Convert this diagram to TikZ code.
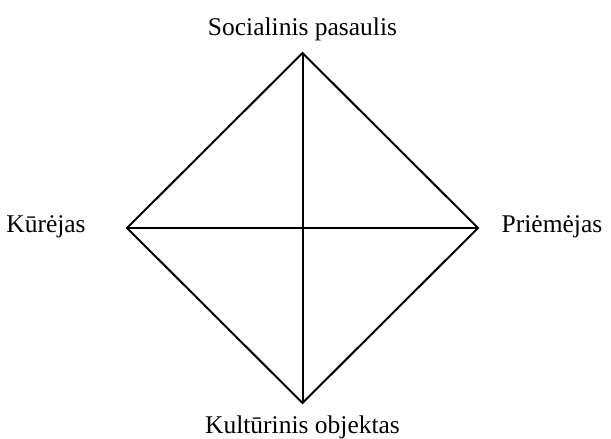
\documentclass[tikz,border=0pt]{standalone}
\usepackage{fontspec}
\setmainfont{Liberation Serif}
\begin{document}
\begin{tikzpicture}[x=1pt,y=-1pt,
  lbl/.style={anchor=base,inner sep=0pt,font=\fontsize{25.5}{30}\selectfont},
  edge/.style={line width=2pt,line join=miter}]
\useasboundingbox (0,0) rectangle (611,439);
\coordinate (top) at (302.5,53);
\coordinate (bot) at (302.5,403);
\coordinate (lft) at (127,228);
\coordinate (rgt) at (478,228);
\node[lbl] (ltop) at (302.5,35) {Socialinis pasaulis};
\node[lbl] (llft) at (46,232) {Kūrėjas};
\node[lbl] (lrgt) at (552,232) {Priėmėjas};
\node[lbl] (lbot) at (302.5,433) {Kultūrinis objektas};
\draw[edge] (top) -- (rgt) -- (bot) -- (lft) -- cycle;
\draw[edge] (top) -- (bot);
\draw[edge] (lft) -- (rgt);
\end{tikzpicture}
\end{document}
